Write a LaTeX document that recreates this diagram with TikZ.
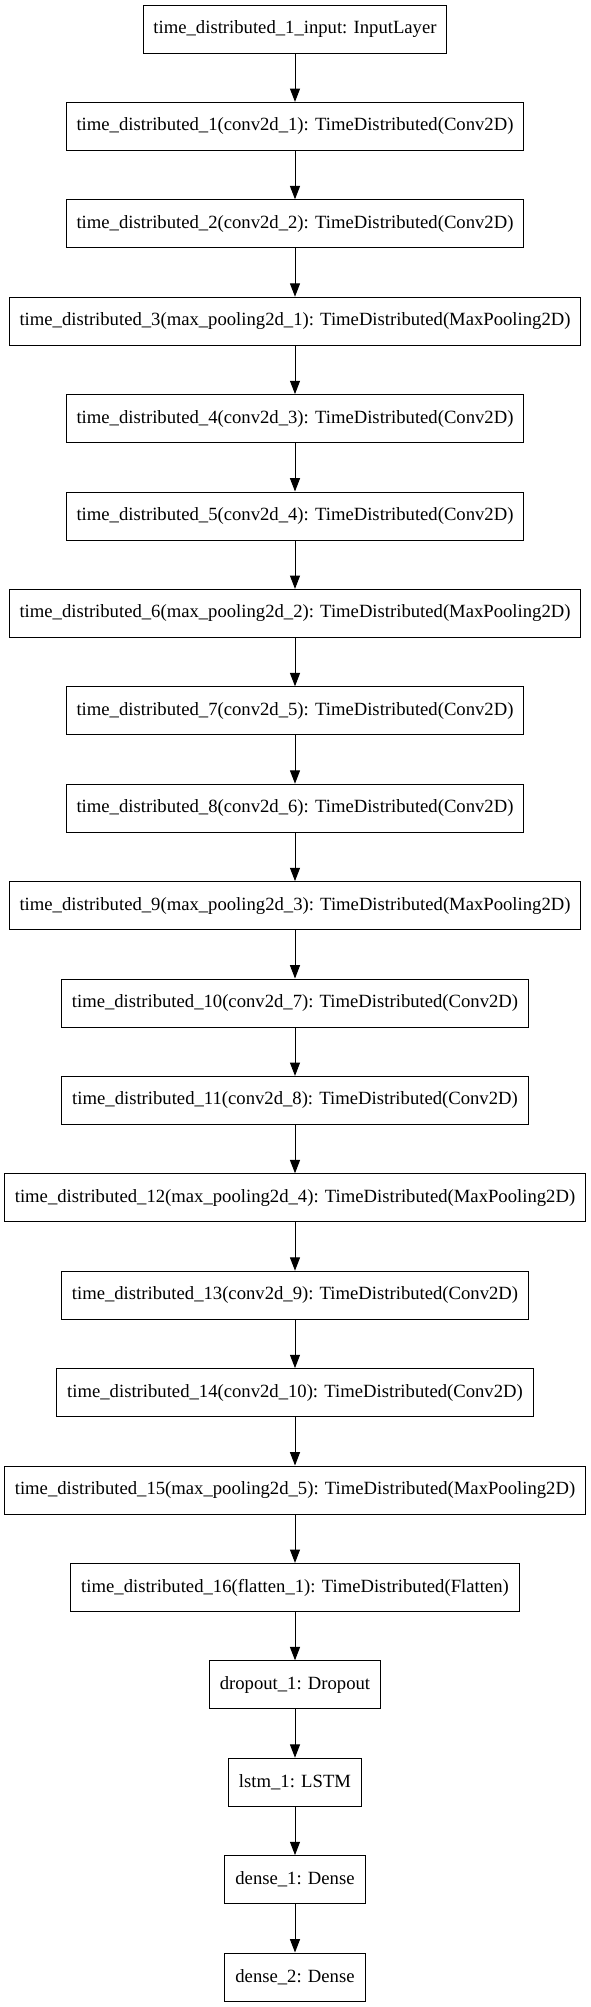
\documentclass[tikz,border=0pt]{standalone}
\usepackage{fontspec}
\setmainfont{Liberation Serif}
\usetikzlibrary{positioning,arrows.meta}

\tikzset{
    layer/.style={draw, line width=0.75pt, rectangle, minimum height=36pt,
        inner xsep=7.8pt, inner ysep=0pt, font=\fontsize{14pt}{17pt}\selectfont},
    flow/.style={line width=0.75pt, -{Triangle[length=10pt,width=7.5pt]}}
}

\begin{document}
\begin{tikzpicture}[node distance=36.3pt]
        \useasboundingbox (0,0) rectangle (442.5pt,-1505.25pt);
        \node[layer] (l1) at (221.25pt,-21.75pt) {time\_distributed\_1\_input: InputLayer};
        \node[layer, below=of l1] (l2) {time\_distributed\_1(conv2d\_1): TimeDistributed(Conv2D)};
        \node[layer, below=of l2] (l3) {time\_distributed\_2(conv2d\_2): TimeDistributed(Conv2D)};
        \node[layer, below=of l3] (l4) {time\_distributed\_3(max\_pooling2d\_1): TimeDistributed(MaxPooling2D)};
        \node[layer, below=of l4] (l5) {time\_distributed\_4(conv2d\_3): TimeDistributed(Conv2D)};
        \node[layer, below=of l5] (l6) {time\_distributed\_5(conv2d\_4): TimeDistributed(Conv2D)};
        \node[layer, below=of l6] (l7) {time\_distributed\_6(max\_pooling2d\_2): TimeDistributed(MaxPooling2D)};
        \node[layer, below=of l7] (l8) {time\_distributed\_7(conv2d\_5): TimeDistributed(Conv2D)};
        \node[layer, below=of l8] (l9) {time\_distributed\_8(conv2d\_6): TimeDistributed(Conv2D)};
        \node[layer, below=of l9] (l10) {time\_distributed\_9(max\_pooling2d\_3): TimeDistributed(MaxPooling2D)};
        \node[layer, below=of l10] (l11) {time\_distributed\_10(conv2d\_7): TimeDistributed(Conv2D)};
        \node[layer, below=of l11] (l12) {time\_distributed\_11(conv2d\_8): TimeDistributed(Conv2D)};
        \node[layer, below=of l12] (l13) {time\_distributed\_12(max\_pooling2d\_4): TimeDistributed(MaxPooling2D)};
        \node[layer, below=of l13] (l14) {time\_distributed\_13(conv2d\_9): TimeDistributed(Conv2D)};
        \node[layer, below=of l14] (l15) {time\_distributed\_14(conv2d\_10): TimeDistributed(Conv2D)};
        \node[layer, below=of l15] (l16) {time\_distributed\_15(max\_pooling2d\_5): TimeDistributed(MaxPooling2D)};
        \node[layer, below=of l16] (l17) {time\_distributed\_16(flatten\_1): TimeDistributed(Flatten)};
        \node[layer, below=of l17] (l18) {dropout\_1: Dropout};
        \node[layer, below=of l18] (l19) {lstm\_1: LSTM};
        \node[layer, below=of l19] (l20) {dense\_1: Dense};
        \node[layer, below=of l20] (l21) {dense\_2: Dense};
        % connectors
        \foreach \a [count=\b from 2] in {1,...,20}
            \draw[flow] (l\a) -- (l\b);
    \end{tikzpicture}
\end{document}
